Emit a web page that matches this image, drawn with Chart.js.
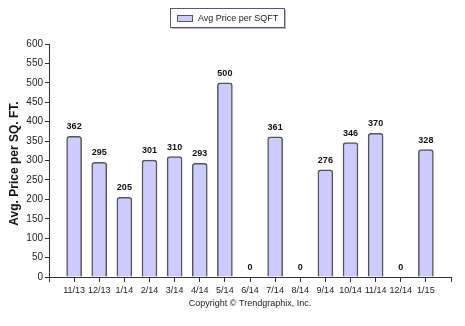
<!DOCTYPE html>
<html>
<head>
<meta charset="utf-8">
<script src="https://cdn.jsdelivr.net/npm/chart.js@4/dist/chart.umd.min.js"></script>
<style>
  html, body { margin: 0; padding: 0; background: #fff; }
  canvas { display: block; }
</style>
</head>
<body>
<canvas id="Price-Chart" width="465" height="326"></canvas>
<script>
//-------------------------------------------------- Data
const months = ["11/13", "12/13", "1/14", "2/14", "3/14", "4/14", "5/14", "6/14", "7/14", "8/14", "9/14", "10/14", "11/14", "12/14", "1/15"];
const pricePerSqft = [362, 295, 205, 301, 310, 293, 500, 0, 361, 0, 276, 346, 370, 0, 328];
const yTicks = [0, 50, 100, 150, 200, 250, 300, 350, 400, 450, 500, 550, 600];
const seriesName = "Avg Price per SQFT";
const yTitle = "Avg. Price per SQ. FT.";
const footer = "Copyright \u00A9 Trendgraphix, Inc.";
//^^^^^^^^^^^^^^^^^^^^^^^^^^^^^^^^^^^^^^^^^^^^^^^^^^ Data

const FONT = "'Liberation Sans', Arial, sans-serif";

// one empty slot on each side of the months
const labels = [""].concat(months, [""]);
const values = [null].concat(pricePerSqft, [null]);

const extras = {
	id: "extras",
	afterDatasetsDraw(chart) {
		const ctx = chart.ctx;
		const meta = chart.getDatasetMeta(0);
		ctx.save();
		// value labels
		ctx.fillStyle = "#111";
		ctx.font = "bold 9px " + FONT;
		ctx.textAlign = "center";
		ctx.textBaseline = "bottom";
		meta.data.forEach((bar, i) => {
			if (values[i] == null) return;
			ctx.fillText(String(values[i]), bar.x, bar.y - 5);
		});
		// legend box
		const lx = 170, ly = 8, lw = 114, lh = 19;
		ctx.fillStyle = "#b8b8c8";
		ctx.fillRect(lx + 2, ly + 2, lw, lh);
		ctx.fillStyle = "#fff";
		ctx.fillRect(lx, ly, lw, lh);
		ctx.strokeStyle = "#555a7a";
		ctx.lineWidth = 1;
		ctx.strokeRect(lx + 0.5, ly + 0.5, lw, lh);
		ctx.fillStyle = "#ccccff";
		ctx.fillRect(lx + 7, ly + 7, 15, 6);
		ctx.strokeStyle = "#555";
		ctx.strokeRect(lx + 7.5, ly + 7.5, 15, 6);
		ctx.fillStyle = "#222";
		ctx.font = "9px " + FONT;
		ctx.textAlign = "left";
		ctx.textBaseline = "middle";
		ctx.fillText(seriesName, lx + 28, ly + 10.5);
		// y title
		ctx.translate(15, (chart.chartArea.top + chart.chartArea.bottom) / 2 + 3);
		ctx.rotate(-Math.PI / 2);
		ctx.font = "bold 12px " + FONT;
		ctx.textAlign = "center";
		ctx.textBaseline = "middle";
		ctx.fillStyle = "#111";
		ctx.fillText(yTitle, 0, 0);
		ctx.restore();
		// footer
		ctx.save();
		ctx.font = "9px " + FONT;
		ctx.fillStyle = "#222";
		ctx.textAlign = "center";
		ctx.textBaseline = "middle";
		ctx.fillText(footer, 250, 304);
		ctx.restore();
	}
};

new Chart(document.getElementById("Price-Chart").getContext("2d"), {
	type: "bar",
	data: {
		labels: labels,
		datasets: [
			{
				label: seriesName,
				data: values,
				backgroundColor: "#ccccff",
				borderColor: "#555",
				borderWidth: 1.5,
				borderRadius: { topLeft: 3, topRight: 3 },
				borderSkipped: "bottom",
				barThickness: 15
			}
		]
	},
	options: {
		responsive: false,
		animation: false,
		layout: { padding: { top: 44, right: 14, left: 0, bottom: 0 } },
		plugins: { legend: { display: false }, tooltip: { enabled: false } },
		scales: {
			x: {
				offset: false,
				afterFit: s => { s.height = 49; },
				grid: { offset: false, drawOnChartArea: false, drawTicks: true, tickLength: 5, color: "#333" },
				border: { color: "#333", width: 1 },
				ticks: { color: "#222", font: { family: FONT, size: 9 }, maxRotation: 0, autoSkip: false, padding: 3 }
			},
			y: {
				min: 0,
				max: 600,
				afterFit: s => { s.width = 49; },
				afterBuildTicks: s => { s.ticks = yTicks.map(v => ({ value: v })); },
				grid: { drawOnChartArea: false, drawTicks: true, tickLength: 4, color: "#333" },
				border: { color: "#333", width: 1 },
				ticks: { color: "#222", font: { family: FONT, size: 10 }, padding: 2 }
			}
		}
	},
	plugins: [extras]
});
</script>
</body>
</html>
